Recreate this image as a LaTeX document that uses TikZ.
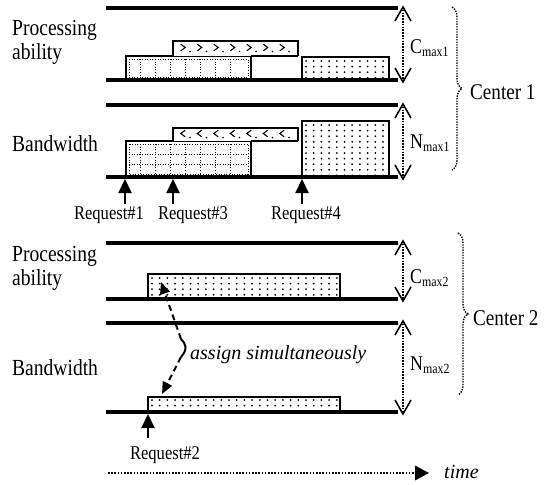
\documentclass[tikz,border=0pt]{standalone}
\usepackage{fontspec}
\setmainfont{Liberation Serif}[FakeStretch=0.85]
\newfontfamily\plainfont{Liberation Serif}
\usetikzlibrary{arrows.meta,decorations.pathreplacing,calc}

\newcommand{\dotbox}[4]{%
  \begin{scope}
    \clip (#1,#2) rectangle (#3,#4);
    \pgfmathsetmacro{\xa}{#1+4}\pgfmathsetmacro{\xb}{#1+11.7}
    \pgfmathsetmacro{\ya}{#2+4}\pgfmathsetmacro{\yb}{#2+9.6}
    \foreach \xx in {\xa,\xb,...,#3} {\foreach \yy in {\ya,\yb,...,#4} {\fill (\xx,\yy) circle (1pt);}}
  \end{scope}}

\newcommand{\chevrons}[3]{% x1, y1 (top), direction
  \foreach \k in {0,...,6} {%
    \pgfmathsetmacro{\cx}{#1+10+16.5*\k}
    \draw[line width=1.1pt] (\cx-2.2*#3,#2+3.2) -- (\cx+2.2*#3,#2+6.5) -- (\cx-2.2*#3,#2+9.8);
    \fill (\cx+7,#2+10.5) circle (0.8pt);
  }}

\tikzset{
  timeline/.style={line width=4pt},
  boxline/.style={line width=1.4pt},
  gridline/.style={line width=1pt, dash pattern=on 1pt off 1.6pt},
  dimshaft/.style={line width=1.5pt, dash pattern=on 1.5pt off 1.3pt},
  dimhead/.style={line width=1.6pt},
  reqarrow/.style={line width=2.2pt, -{Triangle[length=14pt,width=13pt]}},
  timeshaft/.style={line width=2pt, dash pattern=on 1.6pt off 1.6pt},
  assignarrow/.style={line width=2pt, dash pattern=on 6pt off 4pt, -{Triangle[length=12pt,width=10pt]}},
  bracestyle/.style={line width=1.4pt, dash pattern=on 1.4pt off 1.2pt, decorate, decoration={brace, amplitude=10pt}},
  lbl/.style={font=\fontsize{23}{24}\selectfont, align=left, anchor=west, inner sep=0pt},
  req/.style={font=\fontsize{19.5}{20}\selectfont, inner sep=0pt},
  dim/.style={font=\fontsize{21}{21}\selectfont, anchor=west, inner sep=0pt},
  ctr/.style={font=\fontsize{22.5}{23}\selectfont, anchor=west, inner sep=0pt},
  itl/.style={font=\plainfont\itshape\fontsize{20}{20}\selectfont, anchor=west, inner sep=0pt},
}
\newcommand{\sub}[1]{\raisebox{-3pt}{\fontsize{14}{14}\selectfont #1}}
\newcommand{\vup}[1]{\draw[dimhead] ($(#1)+(-8,14)$) -- (#1) -- ($(#1)+(8,14)$);}
\newcommand{\vdown}[1]{\draw[dimhead] ($(#1)+(-8,-14)$) -- (#1) -- ($(#1)+(8,-14)$);}

\begin{document}
\begin{tikzpicture}[x=1pt,y=-1pt]
\useasboundingbox (0,0) rectangle (544,485);

% ---------- Center 1 boxes ----------
\fill[white] (126,56) rectangle (251,80);
\draw[gridline] (129,59) rectangle (248,77);
\foreach \xx in {140,155,...,235} \draw[gridline] (\xx,59) -- (\xx,77);
\draw[boxline] (126,80) -- (126,56) -- (251,56) -- (251,80);

\fill[white] (173,41) rectangle (298,56);
\chevrons{173}{41}{1}
\draw[boxline] (173,56) -- (173,41) -- (298,41) -- (298,56);
\draw[boxline] (251,56) -- (298,56);

\fill[white] (302,57) rectangle (389,80);
\dotbox{302}{57}{389}{80}
\draw[boxline] (302,80) -- (302,57) -- (389,57) -- (389,80);

\fill[white] (126,141) rectangle (251,177);
\draw[gridline] (129,144) rectangle (248,174);
\foreach \yy in {154,164} \draw[gridline] (129,\yy) -- (248,\yy);
\foreach \xx in {140,155,...,235} \draw[gridline] (\xx,144) -- (\xx,174);
\draw[boxline] (126,177) -- (126,141) -- (251,141) -- (251,177);

\fill[white] (173,128) rectangle (298,141);
\chevrons{173}{127}{-1}
\draw[boxline] (173,141) -- (173,128) -- (298,128) -- (298,141);
\draw[boxline] (251,141) -- (298,141);

\fill[white] (302,121) rectangle (389,177);
\dotbox{302}{121}{389}{177}
\draw[boxline] (302,177) -- (302,121) -- (389,121) -- (389,177);

% ---------- Center 2 boxes ----------
\fill[white] (148,274) rectangle (340,299);
\dotbox{148}{274}{340}{299}
\draw[boxline] (148,299) -- (148,274) -- (340,274) -- (340,299);

\fill[white] (148,397) rectangle (340,412);
\dotbox{148}{396}{340}{412}
\draw[boxline] (148,412) -- (148,397) -- (340,397) -- (340,412);

% ---------- timelines ----------
\foreach \yy in {8,80,105,177,243,299,323,412}
  \draw[timeline] (106,\yy) -- (398,\yy);

% ---------- labels ----------
\node[lbl] (pa1) at (12,42) {Processing\\ability};
\node[lbl] (bw1) at (12,144) {Bandwidth};
\node[lbl] (pa2) at (12,268) {Processing\\ability};
\node[lbl] (bw2) at (12,368) {Bandwidth};

% ---------- request arrows ----------
\coordinate (r1s) at (125,204); \coordinate (r1e) at (125,179);
\coordinate (r3s) at (173,204); \coordinate (r3e) at (173,179);
\coordinate (r4s) at (302,204); \coordinate (r4e) at (302,179);
\coordinate (r2s) at (148,438); \coordinate (r2e) at (148,414);
\draw[reqarrow] (r1s) -- (r1e);
\draw[reqarrow] (r3s) -- (r3e);
\draw[reqarrow] (r4s) -- (r4e);
\draw[reqarrow] (r2s) -- (r2e);
\node[req] (q1) at (109,215) {Request\#1};
\node[req] (q3) at (193,215) {Request\#3};
\node[req] (q4) at (306,215) {Request\#4};
\node[req] (q2) at (165,455) {Request\#2};

% ---------- dimension arrows ----------
\coordinate (c1t) at (403,7);   \coordinate (c1b) at (403,82);
\coordinate (n1t) at (403,104); \coordinate (n1b) at (403,179);
\coordinate (c2t) at (403,241); \coordinate (c2b) at (403,301);
\coordinate (n2t) at (403,321); \coordinate (n2b) at (403,414);
\draw[dimshaft] (c1t) -- (c1b);
\draw[dimshaft] (n1t) -- (n1b);
\draw[dimshaft] (c2t) -- (c2b);
\draw[dimshaft] (n2t) -- (n2b);
\vup{c1t} \vdown{c1b}
\vup{n1t} \vdown{n1b}
\vup{c2t} \vdown{c2b}
\vup{n2t} \vdown{n2b}
\node[dim] (cm1) at (410,48) {C\sub{max1}};
\node[dim] (nm1) at (410,143) {N\sub{max1}};
\node[dim] (cm2) at (410,278) {C\sub{max2}};
\node[dim] (nm2) at (410,365) {N\sub{max2}};

% ---------- braces ----------
\coordinate (b1t) at (452,7);  \coordinate (b1b) at (452,170);
\coordinate (b2t) at (458,233); \coordinate (b2b) at (458,395);
\draw[bracestyle] (b1t) -- (b1b);
\draw[bracestyle] (b2t) -- (b2b);
\node[ctr] (cen1) at (470,92) {Center 1};
\node[ctr] (cen2) at (473,318) {Center 2};

% ---------- assign simultaneously ----------
\coordinate (j1) at (181,339);
\coordinate (j2) at (181,357);
\coordinate (at) at (161,282);
\coordinate (ab) at (162,394);
\draw[assignarrow] (j1) -- (at);
\draw[assignarrow] (j2) -- (ab);
\draw[line width=2pt] (j1) .. controls (186,344) and (188,349) .. (j2);
\node[itl] (asg) at (190,355) {assign simultaneously};

% ---------- time ----------
\coordinate (ts) at (108,473);
\coordinate (tb) at (415,473);
\coordinate (te) at (429,473);
\draw[timeshaft] (ts) -- (tb);
\fill (te) -- ($(te)+(-14,-7.5)$) -- ($(te)+(-14,7.5)$) -- cycle;
\node[itl] (tm) at (444,472) {time};
\end{tikzpicture}
\end{document}
